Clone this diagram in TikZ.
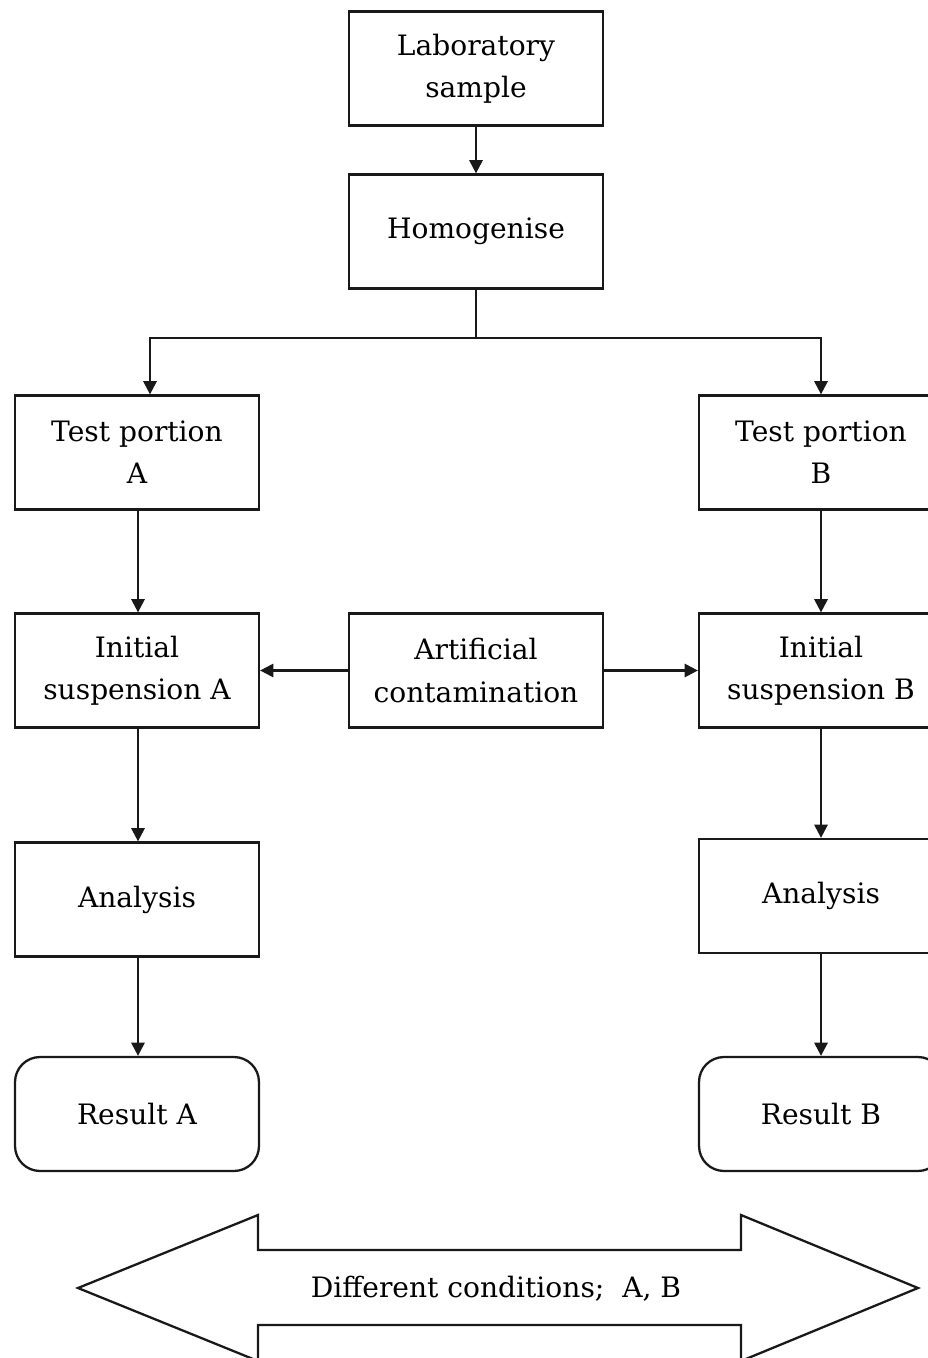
\documentclass[tikz,border=0pt]{standalone}
\usepackage{fontspec}
\setmainfont{DejaVu Serif}
\usetikzlibrary{arrows.meta}
\begin{document}
\begin{tikzpicture}[x=0.02cm,y=-0.02cm,
  box/.style={draw=black!90,line width=1.3pt,minimum width=4.88cm,minimum height=2.28cm,align=center,font=\fontsize{16}{24}\selectfont,inner sep=0pt},
  wbox/.style={box,minimum width=5.08cm},
  rbox/.style={box,rounded corners=0.5cm},
  conn/.style={draw=black!90,line width=1.3pt,-{Triangle[length=7.5pt,width=7.5pt]}}]
\useasboundingbox (0,0) rectangle (928,1358);
\clip (0,0) rectangle (928,1358);
\node[wbox] (lab) at (476,68.5) {Laboratory\\sample};
\node[wbox] (hom) at (476,231.5) {Homogenise};
\node[box] (tpA) at (137,452.5) {Test portion\\A};
\node[box] (tpB) at (821,452.5) {Test portion\\B};
\node[box] (isA) at (137,670.5) {Initial\\suspension A};
\node[wbox] (art) at (476,670.5) {Artificial\\contamination};
\node[box] (isB) at (821,670.5) {Initial\\suspension B};
\node[box] (anA) at (137,899.5) {Analysis};
\node[box] (anB) at (821,896) {Analysis};
\node[rbox] (resA) at (137,1114) {Result A};
\node[rbox] (resB) at (821,1114) {Result B};
\coordinate (split) at (476,338);
\draw[conn] (lab) -- (hom);
\draw[draw=black!90,line width=1.3pt] (hom.south) -- (split);
\draw[conn] (split) -| ([xshift=0.26cm]tpA.north);
\draw[conn] (split) -| (tpB.north);
\draw[conn] ([xshift=0.02cm]tpA.south) -- ([xshift=0.02cm]isA.north);
\draw[conn] (tpB) -- (isB);
\draw[conn] (art) -- (isA);
\draw[conn] (art) -- (isB);
\draw[conn] ([xshift=0.02cm]isA.south) -- ([xshift=0.02cm]anA.north);
\draw[conn] (isB) -- (anB);
\draw[conn] ([xshift=0.02cm]anA.south) -- ([xshift=0.02cm]resA.north);
\draw[conn] (anB) -- (resB);
\draw[draw=black!90,line width=1.3pt] (78,1288) -- (258,1215) -- (258,1250) -- (741,1250) -- (741,1215) -- (918,1288) -- (741,1361) -- (741,1325) -- (258,1325) -- (258,1361) -- cycle;
\node[font=\fontsize{16}{24}\selectfont] (cond) at (496,1289) {Different conditions;\ \ A, B};
\end{tikzpicture}
\end{document}
